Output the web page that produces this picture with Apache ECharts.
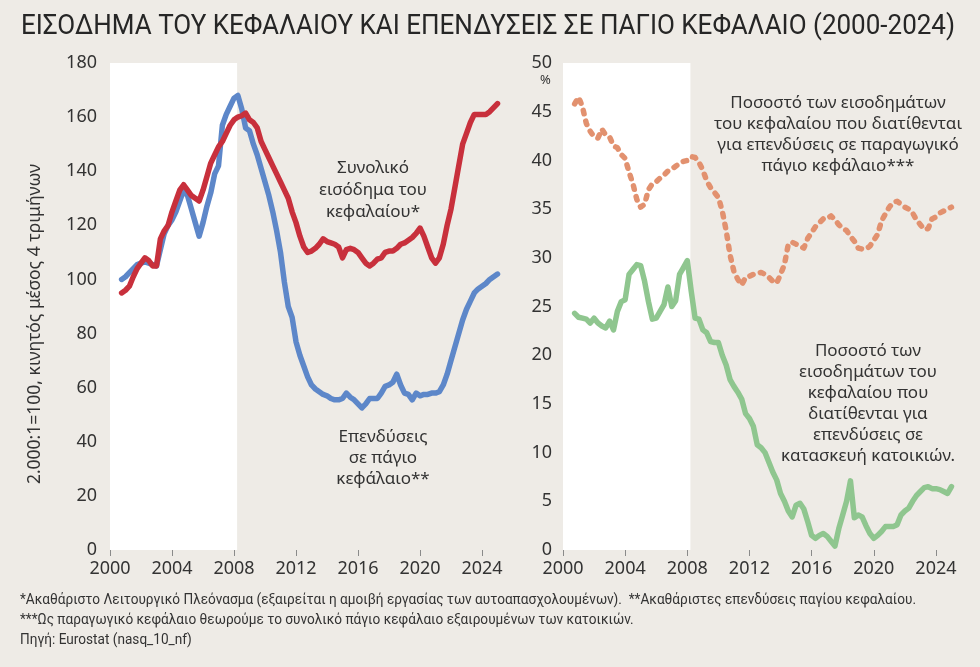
<!DOCTYPE html>
<html>
<head>
<meta charset="utf-8">
<script src="https://cdn.jsdelivr.net/npm/echarts@6/dist/echarts.min.js"></script>
<style>
html,body{margin:0;padding:0;background:#eeebe6;}
#chart{width:980px;height:667px;}
</style>
</head>
<body>
<div id="chart"></div>
<script>
// Quarterly observations, 2000Q4 .. 2025Q1 (4-quarter moving averages)
const quarterLabels = [];
for (let y = 2000; y <= 2025; y++) {
  for (let q = 1; q <= 4; q++) {
    if ((y === 2000 && q < 4) || (y === 2025 && q > 1)) continue;
    quarterLabels.push(y + 'Q' + q);
  }
}
const quarterPos = quarterLabels.map(s => Number(s.slice(0, 4)) + (Number(s.slice(5)) - 1) / 4);

const xTicks = [2000, 2004, 2008, 2012, 2016, 2020, 2024];
const leftYTicks = [0, 20, 40, 60, 80, 100, 120, 140, 160, 180];
const rightYTicks = [0, 5, 10, 15, 20, 25, 30, 35, 40, 45, 50];

// Left panel: index 2000:1 = 100
const capitalIncome = [
  95,
  96, 97.5, 101, 104,
  106, 108, 107, 105,
  105, 115, 118, 120,
  125, 129, 133, 135,
  133, 131, 130, 129,
  133, 138, 143, 146,
  149, 151, 154, 157,
  159, 160, 160.5, 161.5,
  159, 158, 156, 151,
  148, 145, 142, 139,
  136, 133, 130, 125,
  121, 116, 112, 110,
  110.5, 111.5, 113, 115,
  114, 113.5, 113, 112,
  108, 111, 111.5, 111,
  110, 108, 106, 105,
  106, 107.5, 108, 110,
  110.5, 110.5, 111.5, 113,
  113.5, 114.5, 115.5, 117,
  119, 116, 112, 108,
  106, 108, 113, 120,
  126, 134, 142, 150,
  154, 158, 161, 161,
  161, 161, 162, 163.5,
  165
];
const fixedInvestment = [
  100,
  101, 102.5, 104, 105.5,
  106, 106.5, 106, 105.5,
  105, 111, 117, 120,
  122, 125, 129, 133,
  131, 126, 121, 116,
  121, 127, 132, 139,
  142, 157, 161, 164,
  167, 168, 163, 156,
  155, 150, 146, 141,
  136, 131, 125, 118,
  110, 99, 90, 86,
  77, 72, 68, 64,
  61, 59.5, 58.5, 57.5,
  57, 56, 55.5, 55.5,
  56, 58, 56.5, 55.5,
  54, 52.5, 54, 56,
  56, 56, 58, 60.5,
  61, 62, 65, 61,
  58, 57.5, 55.5, 58,
  57, 57.5, 57.5, 58,
  58, 58.5, 61, 65,
  70, 75, 80, 85,
  89, 92, 95, 96.5,
  97.5, 98.5, 100, 101,
  102
];

// Right panel: % of capital income
const productiveShare = [
  45.8,
  46.5, 45.5, 43.8, 43.0,
  42.4, 42.3, 43.2, 42.6,
  42.4, 41.5, 41.3, 40.6,
  40.2, 38.8, 37.6, 36.0,
  35.2, 35.5, 37.0, 37.6,
  37.8, 38.2, 38.5, 38.9,
  39.1, 39.4, 39.7, 39.9,
  40.0, 40.4, 40.3, 39.8,
  39.0, 37.9, 37.2, 36.7,
  36.2, 34.8, 32.8, 30.3,
  28.6, 27.8, 27.2, 28.0,
  28.1, 28.3, 28.4, 28.5,
  28.3, 28.0, 27.6, 27.4,
  28.3, 29.3, 31.4, 31.6,
  31.4, 31.2, 31.0, 32.0,
  32.6, 33.2, 33.6, 34.0,
  34.0, 34.3, 33.9, 33.4,
  33.0, 32.8, 32.2, 31.7,
  31.0, 30.9, 30.9, 31.2,
  31.8, 32.4, 33.8, 34.5,
  35.2, 35.7, 35.8, 35.5,
  35.2, 35.0, 34.6, 33.9,
  33.4, 32.9, 33.0, 34.0,
  34.2, 34.6, 34.8, 35.0,
  35.2
];
const housingShare = [
  24.3,
  23.9, 23.8, 23.7, 23.3,
  23.8, 23.3, 23.0, 22.8,
  23.5, 22.6, 24.5, 25.5,
  25.7, 28.3, 28.8, 29.3,
  29.2, 27.6, 25.5, 23.7,
  23.8, 24.5, 25.2, 27.0,
  25.0, 25.6, 28.3, 29.0,
  29.7, 26.6, 23.8, 23.7,
  22.6, 22.3, 21.4, 21.3,
  21.3, 20.0, 19.0, 17.5,
  16.8, 16.2, 15.5, 14.0,
  13.5, 12.7, 10.8, 10.5,
  10.0, 9.0, 8.0, 7.2,
  5.8, 5.0, 4.0, 3.4,
  4.6, 4.8, 4.2, 2.9,
  1.5, 1.2, 1.5, 1.7,
  1.4, 0.9, 0.4, 2.2,
  3.6, 5.0, 7.1, 3.3,
  3.6, 3.4, 2.5, 1.7,
  1.2, 1.5, 1.9, 2.4,
  2.4, 2.4, 2.6, 3.6,
  4.0, 4.3, 5.0, 5.6,
  6.0, 6.4, 6.5, 6.3,
  6.3, 6.2, 6.0, 5.8,
  6.5
];

const titleText = 'ΕΙΣΟΔΗΜΑ ΤΟΥ ΚΕΦΑΛΑΙΟΥ ΚΑΙ ΕΠΕΝΔΥΣΕΙΣ ΣΕ ΠΑΓΙΟ ΚΕΦΑΛΑΙΟ (2000-2024)';
const yNameText = '2.000:1=100, κινητός μέσος 4 τριμήνων';
const noteLines = [
  '*Ακαθάριστο Λειτουργικό Πλεόνασμα (εξαιρείται η αμοιβή εργασίας των αυτοαπασχολουμένων).  **Ακαθάριστες επενδύσεις παγίου κεφαλαίου.',
  '***Ως παραγωγικό κεφάλαιο θεωρούμε το συνολικό πάγιο κεφάλαιο εξαιρουμένων των κατοικιών.',
  'Πηγή: Eurostat (nasq_10_nf)'
];

const pair = arr => arr.map((v, i) => [quarterPos[i], v]);

const FONT = 'Noto Sans';
const TXT = '#333333';

// horizontal condensing factors so the condensed-looking texts span the same width
const mctx = document.createElement('canvas').getContext('2d');
mctx.font = '28px Roboto';
const titleScale = 934 / mctx.measureText(titleText).width;
mctx.font = '14.5px Roboto';
const noteScale = 896 / mctx.measureText(noteLines[0]).width;

const chart = echarts.init(document.getElementById('chart'), null, {renderer: 'canvas'});

function xAxisFor(gridIndex) {
  return {
    type: 'value', gridIndex, min: 2000, max: 2026,
    axisLine: {show: false},
    splitLine: {show: false},
    axisTick: {show: true, customValues: xTicks, length: 6, lineStyle: {color: '#8a8a8a', width: 1}},
    axisLabel: {customValues: xTicks, formatter: v => String(v), color: TXT, fontFamily: FONT, fontSize: 18, margin: 10}
  };
}

const option = {
  backgroundColor: '#eeebe6',
  animation: false,
  grid: [
    {left: 110, top: 63, width: 403, height: 487},
    {left: 563, top: 63, width: 404, height: 487}
  ],
  xAxis: [xAxisFor(0), xAxisFor(1)],
  yAxis: [
    {
      type: 'value', gridIndex: 0, min: 0, max: 180, interval: 20,
      axisLine: {show: false}, axisTick: {show: false}, splitLine: {show: false},
      axisLabel: {customValues: leftYTicks, color: TXT, fontFamily: FONT, fontSize: 18, margin: 13}
    },
    {
      type: 'value', gridIndex: 1, min: 0, max: 50, interval: 5,
      axisLine: {show: false}, axisTick: {show: false}, splitLine: {show: false},
      axisLabel: {customValues: rightYTicks, color: TXT, fontFamily: FONT, fontSize: 18, margin: 11}
    }
  ],
  series: [
    {
      type: 'line', xAxisIndex: 0, yAxisIndex: 0, data: pair(fixedInvestment),
      showSymbol: false, lineStyle: {color: '#5d87c9', width: 5.5, join: 'round', cap: 'round'},
      z: 3,
      markArea: {silent: true, itemStyle: {color: '#ffffff'}, data: [[{xAxis: 2000}, {xAxis: 2008.2}]], z: 1}
    },
    {
      type: 'line', xAxisIndex: 0, yAxisIndex: 0, data: pair(capitalIncome),
      showSymbol: false, lineStyle: {color: '#c8303c', width: 5.5, join: 'round', cap: 'round'}, z: 4
    },
    {
      type: 'line', xAxisIndex: 1, yAxisIndex: 1, data: pair(housingShare),
      showSymbol: false, lineStyle: {color: '#8fc68f', width: 5.5, join: 'round', cap: 'round'},
      z: 3,
      markArea: {silent: true, itemStyle: {color: '#ffffff'}, data: [[{xAxis: 2000}, {xAxis: 2008.2}]], z: 1}
    },
    {
      type: 'line', xAxisIndex: 1, yAxisIndex: 1, data: pair(productiveShare),
      showSymbol: false, lineStyle: {color: '#e2916f', width: 5.5, type: [3.5, 7.5], cap: 'round', join: 'round'}, z: 4
    }
  ],
  graphic: [
    {type: 'text', x: 21, y: 13, scaleX: titleScale, style: {text: titleText, fill: '#262626', font: '28px Roboto'}},
    {type: 'text', x: 35, y: 324, rotation: Math.PI / 2, style: {text: yNameText, fill: TXT, font: '17.5px "Noto Sans"', align: 'center', verticalAlign: 'middle'}},
    {type: 'text', left: 540, top: 74, style: {text: '%', fill: TXT, font: '13px "Noto Sans"'}},
    {type: 'text', x: 373, y: 157, style: {text: 'Συνολικό\nεισόδημα του\nκεφαλαίου*', fill: TXT, font: '17px "Noto Sans"', align: 'center', lineHeight: 22}},
    {type: 'text', x: 383, y: 427, style: {text: 'Επενδύσεις\nσε πάγιο\nκεφάλαιο**', fill: TXT, font: '17px "Noto Sans"', align: 'center', lineHeight: 21}},
    {type: 'text', x: 838, y: 93, style: {text: 'Ποσοστό των εισοδημάτων\nτου κεφαλαίου που διατίθενται\nγια επενδύσεις σε παραγωγικό\nπάγιο κεφάλαιο***', fill: TXT, font: '17px "Noto Sans"', align: 'center', lineHeight: 21}},
    {type: 'text', x: 868, y: 341, style: {text: 'Ποσοστό των\nεισοδημάτων του\nκεφαλαίου που\nδιατίθενται για\nεπενδύσεις σε\nκατασκευή κατοικιών.', fill: TXT, font: '17px "Noto Sans"', align: 'center', lineHeight: 21}},
    {type: 'text', x: 20, y: 590, scaleX: noteScale, style: {text: noteLines.join('\n'), fill: TXT, font: '14.5px Roboto', lineHeight: 20}}
  ]
};
chart.setOption(option);
</script>
</body>
</html>
